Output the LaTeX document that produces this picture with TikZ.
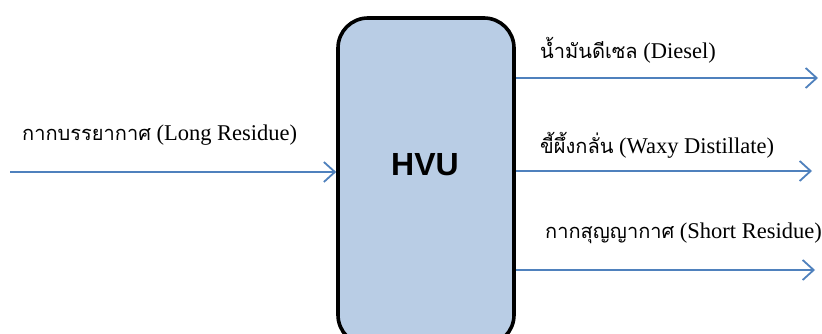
\documentclass[tikz,border=0pt]{standalone}
\usepackage{fontspec}
\setmainfont{Liberation Serif}
\newfontfamily\thaifont[Script=Thai,Scale=0.89]{Loma}
\newfontfamily\labelsans{Liberation Sans}
\usetikzlibrary{arrows.meta}

\definecolor{flowblue}{HTML}{4F81BD}
\definecolor{unitfill}{HTML}{B9CDE5}

\tikzset{
  unitbox/.style={draw=black, line width=3.6pt, fill=unitfill, rounded corners=30pt,
    minimum width=176pt, minimum height=327pt, inner sep=0pt},
  flow/.style={draw=flowblue, line width=1.8pt,
    -{Straight Barb[length=11pt, width=20pt, line width=1.8pt]}},
  stream/.style={anchor=west, inner sep=0pt, font=\fontsize{22.5}{26}\selectfont}
}

\begin{document}
\begin{tikzpicture}[x=1pt, y=1pt]
  \useasboundingbox (0,0) rectangle (822,334);
  \clip (0,0) rectangle (822,334);
  \fill[white] (0,0) rectangle (822,334);

  % vacuum unit
  \node[unitbox] (hvu) at (426,152.5) {};
  \node[font=\labelsans\bfseries\fontsize{32}{36}\selectfont] (hvulabel) at (425,169) {HVU};

  % feed
  \coordinate (feed) at (10,162);
  \draw[flow] (feed) -- (feed -| hvu.west);
  \node[stream] (feedlabel) at (22,199) {{\thaifont กากบรรยากาศ} (Long Residue)};

  % products
  \coordinate (dieselend) at (818,256);
  \coordinate (waxend) at (812,163);
  \coordinate (shortend) at (815,64);
  \draw[flow] (dieselend -| hvu.east) -- (dieselend);
  \draw[flow] (waxend -| hvu.east) -- (waxend);
  \draw[flow] (shortend -| hvu.east) -- (shortend);

  \node[stream] (diesellabel) at (540,284) {{\thaifont น้ำมันดีเซล} (Diesel)};
  \node[stream] (waxlabel) at (540,189) {{\thaifont ขี้ผึ้งกลั่น} (Waxy Distillate)};
  \node[stream] (shortlabel) at (545,101) {{\thaifont กากสุญญากาศ} (Short Residue)};
\end{tikzpicture}
\end{document}
